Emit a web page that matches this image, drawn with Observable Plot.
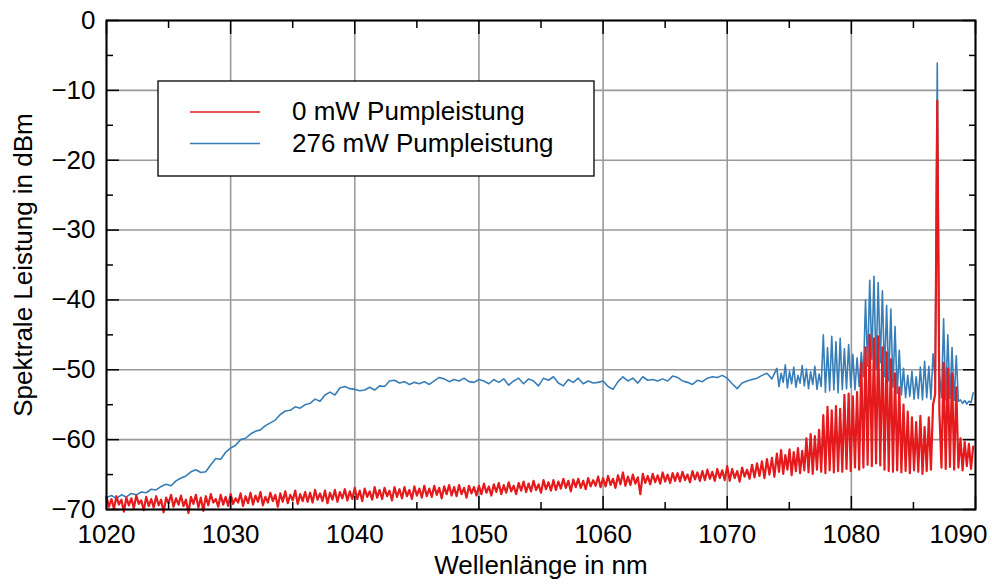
<!DOCTYPE html>
<html><head><meta charset="utf-8">
<script src="https://cdn.jsdelivr.net/npm/d3@7"></script>
<script src="https://cdn.jsdelivr.net/npm/@observablehq/plot@0.6"></script>
<style>body{margin:0;background:#fff;} #chart{width:992px;height:585px;}</style>
</head><body><div id="chart"></div>
<script>
const xTicks = [1020, 1030, 1040, 1050, 1060, 1070, 1080, 1090];
const xMinor = [1025, 1035, 1045, 1055, 1065, 1075, 1085];
const yTicks = [0, -10, -20, -30, -40, -50, -60, -70];
const yMinor = [-5, -15, -25, -35, -45, -55, -65];
const seriesNames = ["0 mW Pumpleistung", "276 mW Pumpleistung"];
const seriesColors = ["#e41a1c", "#377eb8"];
const xLabel = "Wellenlänge in nm";
const yLabel = "Spektrale Leistung in dBm";

// 0 mW series, part A: start 1020 nm, step 0.2 nm
const redAStart = 1020, redAStep = 0.2;
const redA = [
-68.2,-69.6,-68.5,-69.9,-68.1,-69.3,-68.6,-70.3,-68.3,-69.4,
-68.4,-69.8,-68.0,-69.2,-68.7,-70.1,-68.2,-69.5,-68.5,-69.7,
-68.1,-69.4,-68.6,-70.4,-68.3,-69.1,-67.9,-69.6,-68.4,-69.3,
-68.0,-69.5,-68.6,-70.5,-68.2,-69.2,-67.9,-69.7,-68.3,-70.2,
-68.1,-69.4,-67.8,-69.0,-68.5,-69.6,-67.9,-69.3,-68.2,-69.5,
-67.8,-69.2,-68.4,-69.0,-67.7,-69.5,-68.1,-69.1,-67.6,-69.3,
-68.0,-68.9,-67.5,-69.4,-68.2,-69.0,-67.6,-68.8,-67.9,-69.6,
-67.7,-68.9,-67.4,-69.1,-67.9,-68.7,-67.3,-69.2,-67.8,-68.8,
-67.5,-68.9,-67.6,-69.0,-67.2,-68.6,-67.7,-68.8,-67.3,-69.1,
-67.6,-68.6,-67.2,-68.9,-67.5,-68.4,-67.1,-68.7,-67.4,-68.5,
-66.9,-68.5,-67.3,-68.8,-67.0,-68.2,-67.4,-68.6,-66.8,-68.3,
-67.2,-68.5,-66.9,-68.1,-67.3,-68.7,-66.8,-68.2,-67.1,-68.4,
-66.8,-68.1,-67.2,-68.5,-66.7,-68.0,-67.0,-68.3,-66.6,-68.1,
-67.0,-68.2,-66.6,-67.9,-66.9,-68.4,-66.7,-67.8,-66.5,-68.0,
-66.8,-68.1,-66.5,-67.8,-66.9,-68.3,-66.6,-67.7,-66.8,-68.0,
-66.6,-67.8,-66.3,-67.6,-66.7,-68.0,-66.4,-67.5,-66.2,-67.8,
-66.5,-67.6,-66.1,-67.4,-66.6,-67.8,-66.2,-67.3,-66.0,-67.5,
-66.3,-67.4,-65.9,-67.2,-66.4,-67.6,-65.8,-67.1,-66.1,-67.3,
-65.8,-67.2,-66.0,-67.0,-65.6,-66.9,-65.9,-67.4,-65.7,-66.8,
-65.6,-66.9,-65.9,-67.1,-65.5,-66.7,-65.8,-66.6,-65.3,-66.8,
-65.5,-66.7,-65.2,-66.5,-65.6,-66.9,-65.1,-66.4,-64.7,-66.6,
-65.3,-66.5,-65.0,-66.3,-65.4,-67.8,-64.9,-66.2,-65.2,-66.4,
-64.9,-66.1,-65.1,-66.3,-64.7,-66.0,-65.0,-66.2,-64.8,-65.9,
-64.8,-66.0,-64.6,-65.8,-65.0,-66.1,-64.5,-65.7,-64.7,-65.9,
-64.5,-65.8,-64.3,-65.6,-64.6,-65.9,-64.2,-65.5,-64.4,-65.8,
-63.8,-65.9,-64.2,-65.5,-64.5,-66.0,-64.0,-65.3,-64.3,-65.6,
-63.6,-65.4,-63.4,-65.2,-63.1,-65.5,-62.8,-65.0,-62.6,-65.3
];
// 0 mW series, part B: start 1074 nm, step 0.17 nm
const redBStart = 1074, redBStep = 0.17;
const redB = [
-62.0,-64.6,-61.5,-64.9,-62.2,-64.3,-61.4,-65.1,-61.8,-64.5,-61.2,-64.8,-61.6,-64.4,
-59.8,-64.7,-59.2,-64.9,-59.5,-64.3,-58.6,-64.6,
-56.5,-64.8,-55.3,-64.4,-55.8,-64.7,-55.2,-64.5,-55.6,-64.6,
-53.6,-64.2,-53.4,-64.5,-53.8,-64.0,-53.2,-64.3,
-49.0,-64.0,-46.8,-63.6,-45.0,-63.8,-45.5,-63.4,-45.2,-63.7,
-46.8,-64.3,-47.5,-64.5,
-48.5,-64.6,-50.5,-64.4,-52.5,-64.7,
-55.0,-64.5,-56.0,-64.8,-56.8,-64.4,
-57.5,-64.6,-56.6,-64.9,-58.2,-64.5,-56.8,-64.3,
-55.0,-53.5,-11.5,-56.0,
-64.0,-49.0,-64.2,-49.8,-63.9,-50.5,-64.3,-52.5,-64.0,
-59.8,-64.4,-60.3,-63.8,-60.6,-64.2,-61.0
];

// 276 mW series, part A: start 1020 nm, step 0.4 nm
const blueAStart = 1020, blueAStep = 0.4;
const blueA = [
-68.3,-68.0,-68.4,-67.9,-68.2,-67.7,-67.9,-67.5,-67.6,-67.1,
-67.2,-66.7,-66.4,-66.6,-65.9,-65.5,-65.2,-64.6,-64.3,-64.7,
-64.6,-63.6,-62.7,-62.8,-61.8,-61.2,-60.8,-60.0,-59.8,-59.2,
-58.8,-58.6,-58.0,-57.6,-57.2,-56.4,-55.9,-55.8,-55.3,-55.5,
-55.0,-54.8,-54.2,-54.5,-53.6,-53.2,-53.6,-52.6,-52.4,-52.7,
-52.8,-53.0,-52.9,-52.5,-52.9,-52.3,-52.4,-51.6,-51.5,-51.9,
-51.7,-52.1,-51.8,-52.0,-51.7,-52.1,-51.6,-51.1,-51.3,-51.7,
-51.4,-51.6,-51.2,-51.7,-51.8,-51.4,-51.6,-52.0,-51.4,-51.8,
-51.3,-52.2,-51.6,-51.2,-52.0,-51.3,-51.6,-52.3,-51.2,-51.5,
-51.0,-51.9,-52.3,-51.4,-51.8,-51.2,-52.0,-51.6,-51.9,-51.8,
-51.6,-52.4,-52.8,-51.7,-51.0,-51.6,-51.2,-51.9,-51.0,-51.5,
-51.4,-51.6,-51.3,-51.6,-50.9,-51.1,-51.6,-51.8,-52.1,-51.5,
-51.7,-51.2,-51.0,-51.1,-50.8,-51.2,-52.0,-52.7,-51.9,-51.6,
-51.4,-51.2,-50.8,-50.5,-51.3
];
// 276 mW series, part B: start 1074 nm, step 0.17 nm
const blueBStart = 1074, blueBStep = 0.17;
const blueB = [
-49.8,-52.4,-50.5,-51.8,-49.3,-52.6,-50.2,-52.0,-49.6,-52.5,-50.8,-51.9,-49.4,-52.3,-49.9,-52.7,-50.3,-52.1,-49.5,-52.8,-50.6,-52.4,
-45.0,-53.2,-46.8,-53.0,-45.2,-52.9,-46.0,-53.3,-45.5,-52.8,-47.0,
-52.7,-46.4,-52.5,-47.8,-52.9,-48.3,-52.4,-47.5,
-51.0,-40.0,-49.5,-37.2,-48.5,-36.6,-50.0,-37.5,-49.0,
-38.7,-51.0,-40.8,-51.6,
-41.3,-52.5,-43.8,-53.4,-47.2,
-53.6,-49.8,-54.0,-50.8,-53.8,-50.2,-54.2,-51.0,
-54.1,-49.6,-54.3,-48.8,-54.0,-49.5,-54.2,-47.7,-51.5,
-6.1,
-50.5,-54.0,-42.7,-54.3,-45.0,-54.1,-46.8,-54.4,-48.0,-54.5,
-54.3,-54.8,-54.4,-54.9,-54.5,-54.7,-53.3
];

function build(parts) {
  const out = [];
  for (const [start, step, vals] of parts) {
    vals.forEach((v, i) => out.push({wl: start + i * step, v}));
  }
  return out;
}
const redData = build([[redAStart, redAStep, redA], [redBStart, redBStep, redB]]);
const blueData = build([[blueAStart, blueAStep, blueA], [blueBStart, blueBStep, blueB]]);

const FS = 26;
const FONT = "'Liberation Sans', Arial, Helvetica, sans-serif";
const fmtY = d => d < 0 ? "\u2212" + (-d) : String(d);
const gridStyle = {stroke: "#9a9a9a", strokeOpacity: 1, strokeWidth: 1.6};
const noText = () => "";

const plot = Plot.plot({
  width: 992, height: 585,
  marginLeft: 106, marginRight: 17, marginTop: 20, marginBottom: 76,
  style: {fontFamily: FONT, fontSize: FS + "px", color: "black", background: "white"},
  x: {domain: [1020, 1090], label: null},
  y: {domain: [-70, 0], label: null},
  marks: [
    Plot.gridX(xTicks, gridStyle),
    Plot.gridY(yTicks, gridStyle),
    Plot.line(blueData, {x: "wl", y: "v", stroke: seriesColors[1], strokeWidth: 1.6}),
    Plot.line(redData, {x: "wl", y: "v", stroke: seriesColors[0], strokeWidth: 2.2}),
    Plot.axisX(xTicks, {anchor: "bottom", tickSize: -13, tickFormat: noText, strokeWidth: 1.5}),
    Plot.axisX(xMinor, {anchor: "bottom", tickSize: -7, tickFormat: noText, strokeWidth: 1.5}),
    Plot.axisX(xTicks, {anchor: "top", tickSize: -13, tickFormat: noText, strokeWidth: 1.5}),
    Plot.axisX(xMinor, {anchor: "top", tickSize: -7, tickFormat: noText, strokeWidth: 1.5}),
    Plot.axisY(yTicks, {anchor: "left", tickSize: -13, tickFormat: noText, strokeWidth: 1.5}),
    Plot.axisY(yMinor, {anchor: "left", tickSize: -7, tickFormat: noText, strokeWidth: 1.5}),
    Plot.axisY(yTicks, {anchor: "right", tickSize: -13, tickFormat: noText, strokeWidth: 1.5}),
    Plot.axisY(yMinor, {anchor: "right", tickSize: -7, tickFormat: noText, strokeWidth: 1.5}),
    Plot.axisX(xTicks.slice(0, -1), {anchor: "bottom", tickSize: 0, tickPadding: 15, fontSize: FS, tickFormat: d => String(d)}),
    Plot.axisX(xTicks.slice(-1), {anchor: "bottom", tickSize: 0, tickPadding: 15, fontSize: FS, dx: -17, tickFormat: d => String(d)}),
    Plot.axisY(yTicks, {anchor: "left", tickSize: 0, tickPadding: 11, fontSize: FS, tickFormat: fmtY}),
    Plot.frame({stroke: "black", strokeWidth: 2}),
    Plot.text([xLabel], {frameAnchor: "bottom", dy: 64, fontSize: FS, textAnchor: "middle"}),
    Plot.text([yLabel], {frameAnchor: "left", dx: -83, rotate: -90, fontSize: FS, textAnchor: "middle"})
  ]
});
document.getElementById("chart").appendChild(plot);

// legend
const svg = d3.select(plot);
const lg = svg.append("g").attr("font-family", FONT).attr("font-size", FS).attr("text-anchor", "start");
lg.append("rect").attr("x", 158).attr("y", 81).attr("width", 436).attr("height", 95)
  .attr("fill", "white").attr("stroke", "black").attr("stroke-width", 1.3);
seriesNames.forEach((name, i) => {
  const y = 112 + i * 31.5;
  lg.append("line").attr("x1", 190).attr("x2", 260).attr("y1", y).attr("y2", y)
    .attr("stroke", seriesColors[i]).attr("stroke-width", 1.3);
  lg.append("text").attr("x", 292).attr("y", 120 + i * 32).attr("fill", "black")
    .attr("text-anchor", "start").text(name);
});
</script>
</body></html>
